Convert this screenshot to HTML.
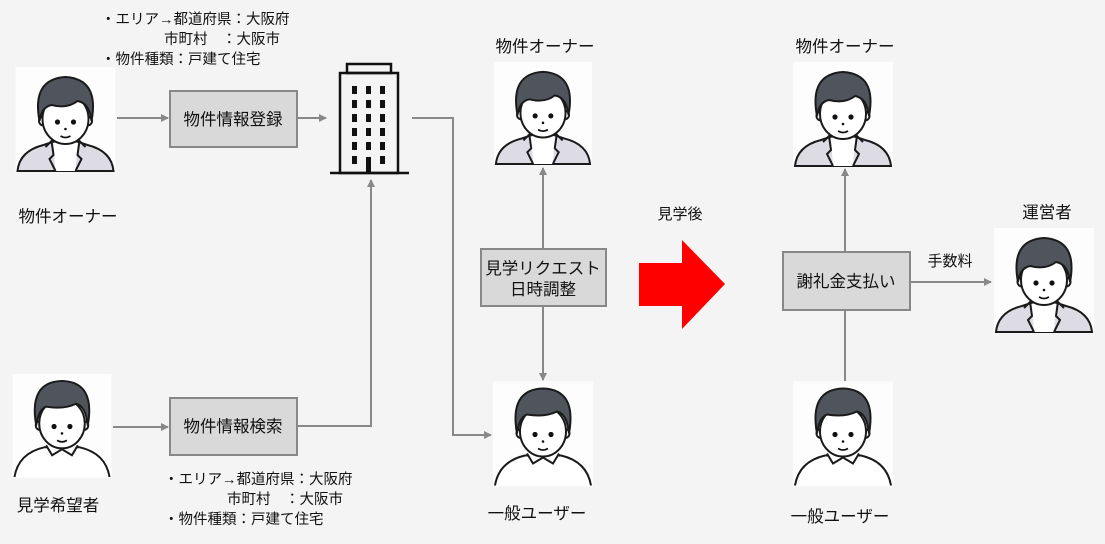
<!DOCTYPE html>
<html><head><meta charset="utf-8"><style>
html,body{margin:0;padding:0;background:#f4f4f4;}
svg{display:block;}
text{font-family:"Liberation Sans","Noto Sans CJK JP",sans-serif;fill:#111;}
</style></head><body>
<svg width="1105" height="544" viewBox="0 0 1105 544" xmlns="http://www.w3.org/2000/svg">
<defs>
<marker id="ah" markerWidth="8" markerHeight="8" refX="7" refY="4" orient="auto" markerUnits="userSpaceOnUse">
<path d="M0,0 L8,4 L0,8 Z" fill="#888"/></marker>
<symbol id="suit" viewBox="0 0 100 105">
<rect width="100" height="105" fill="#fdfdfd"/>
<path d="M2 104 Q4 84 28 78 L40 74 L60 74 L72 78 Q96 84 98 104 Z" fill="#dddbe4" stroke="#1a1a1a" stroke-width="2"/>
<path d="M38 76 L40 104 L60 104 L62 76 Z" fill="#fff" stroke="none"/>
<path d="M30 80 L36 74 L38 88 L34 92 L40 104 M70 80 L64 74 L62 88 L66 92 L60 104" fill="none" stroke="#1a1a1a" stroke-width="2"/>
<circle cx="28" cy="54" r="4.5" fill="#fff" stroke="#1a1a1a" stroke-width="2"/>
<circle cx="72" cy="54" r="4.5" fill="#fff" stroke="#1a1a1a" stroke-width="2"/>
<ellipse cx="50" cy="52" rx="23" ry="25" fill="#fff" stroke="#1a1a1a" stroke-width="2"/>
<path d="M24 54 Q16 12 50 10 Q84 12 76 54 Q74 36 62 34 Q52 42 36 38 Q26 40 24 54 Z" fill="#50545c" stroke="#1a1a1a" stroke-width="2"/>
<circle cx="42" cy="55" r="2.6" fill="#111"/><circle cx="58" cy="55" r="2.6" fill="#111"/>
<circle cx="50" cy="62" r="1.3" fill="#111"/>
<path d="M45 69 Q50 72 55 69" fill="none" stroke="#111" stroke-width="1.8"/>
</symbol>
<symbol id="shirt" viewBox="0 0 100 105">
<rect width="100" height="105" fill="#fdfdfd"/>
<path d="M2 104 Q6 80 32 74 L68 74 Q94 80 98 104" fill="#fff" stroke="#1a1a1a" stroke-width="2"/>
<path d="M34 72 L40 82 L50 76 L60 82 L66 72" fill="#fff" stroke="#1a1a1a" stroke-width="2"/>
<circle cx="28" cy="52" r="4.5" fill="#fff" stroke="#1a1a1a" stroke-width="2"/>
<circle cx="72" cy="52" r="4.5" fill="#fff" stroke="#1a1a1a" stroke-width="2"/>
<ellipse cx="50" cy="50" rx="23" ry="25" fill="#fff" stroke="#1a1a1a" stroke-width="2"/>
<path d="M24 52 Q16 8 50 7 Q84 8 76 52 Q74 32 64 30 Q52 36 34 33 Q26 36 24 52 Z" fill="#50545c" stroke="#1a1a1a" stroke-width="2"/>
<circle cx="42" cy="53" r="2.6" fill="#111"/><circle cx="58" cy="53" r="2.6" fill="#111"/>
<circle cx="50" cy="60" r="1.3" fill="#111"/>
<path d="M45 67 Q50 70 55 67" fill="none" stroke="#111" stroke-width="1.8"/>
</symbol>
</defs>

<use href="#suit" x="15" y="67" width="101" height="105"/>
<use href="#shirt" x="12" y="374" width="100" height="104"/>
<use href="#suit" x="493" y="62" width="100" height="103"/>
<use href="#shirt" x="493" y="381" width="100" height="106"/>
<use href="#suit" x="793" y="62" width="100" height="105"/>
<use href="#shirt" x="793" y="381" width="100" height="106"/>
<use href="#suit" x="993" y="228" width="102" height="105"/>

<g fill="none" stroke="#111" stroke-width="2.5">
<rect x="347" y="64" width="44" height="9"/>
<rect x="340" y="73" width="58" height="100"/>
<line x1="330" y1="173" x2="409" y2="173"/>
</g>
<g fill="#111">
<rect x="352" y="86" width="5" height="8"/><rect x="366" y="86" width="5" height="8"/><rect x="380" y="86" width="5" height="8"/>
<rect x="352" y="100" width="5" height="8"/><rect x="366" y="100" width="5" height="8"/><rect x="380" y="100" width="5" height="8"/>
<rect x="352" y="114" width="5" height="8"/><rect x="366" y="114" width="5" height="8"/><rect x="380" y="114" width="5" height="8"/>
<rect x="352" y="128" width="5" height="8"/><rect x="366" y="128" width="5" height="8"/><rect x="380" y="128" width="5" height="8"/>
<rect x="352" y="142" width="5" height="8"/><rect x="366" y="142" width="5" height="8"/><rect x="380" y="142" width="5" height="8"/>
<rect x="352" y="156" width="5" height="8"/><rect x="380" y="156" width="5" height="8"/>
<rect x="366" y="157" width="5" height="16"/>
</g>

<g stroke="#888" stroke-width="2" fill="none">
<line x1="117" y1="118" x2="168" y2="118" marker-end="url(#ah)"/>
<line x1="297" y1="118" x2="326" y2="118" marker-end="url(#ah)"/>
<polyline points="412,118 453,118 453,435 491,435" marker-end="url(#ah)"/>
<line x1="113" y1="427" x2="168" y2="427" marker-end="url(#ah)"/>
<polyline points="297,426 371,426 371,180" marker-end="url(#ah)"/>
<line x1="543" y1="248" x2="543" y2="168" marker-end="url(#ah)"/>
<line x1="543" y1="306" x2="543" y2="380" marker-end="url(#ah)"/>
<line x1="845" y1="252" x2="845" y2="169" marker-end="url(#ah)"/>
<line x1="845" y1="310" x2="845" y2="381"/>
<line x1="910" y1="282" x2="991" y2="282" marker-end="url(#ah)"/>
</g>

<g fill="#d9d9d9" stroke="#888" stroke-width="2">
<rect x="170" y="91" width="127" height="56"/>
<rect x="170" y="398" width="127" height="57"/>
<rect x="481" y="249" width="125" height="57"/>
<rect x="783" y="252" width="127" height="58"/>
</g>
<g font-size="16.5" text-anchor="middle">
<text x="233" y="125">物件情報登録</text>
<text x="233" y="432">物件情報検索</text>
<text x="543" y="274">見学リクエスト</text>
<text x="543" y="295">日時調整</text>
<text x="846" y="287">謝礼金支払い</text>
</g>

<path d="M639 263 L682 263 L682 240 L725 284 L682 329 L682 306 L639 306 Z" fill="#ff0000"/>

<g font-size="16.5" text-anchor="middle">
<text x="68" y="222">物件オーナー</text>
<text x="58" y="511">見学希望者</text>
<text x="545" y="52">物件オーナー</text>
<text x="537" y="519">一般ユーザー</text>
<text x="845" y="52">物件オーナー</text>
<text x="840" y="522">一般ユーザー</text>
<text x="1047" y="218">運営者</text>
</g>
<g font-size="15" text-anchor="middle">
<text x="680" y="219">見学後</text>
<text x="950" y="266">手数料</text>
</g>
<g font-size="14.5">
<text x="101" y="24">・エリア→都道府県：大阪府</text>
<text x="164" y="44">市町村　：大阪市</text>
<text x="101" y="64">・物件種類：戸建て住宅</text>
<text x="164" y="484">・エリア→都道府県：大阪府</text>
<text x="227" y="504">市町村　：大阪市</text>
<text x="164" y="524">・物件種類：戸建て住宅</text>
</g>
</svg>
</body></html>
